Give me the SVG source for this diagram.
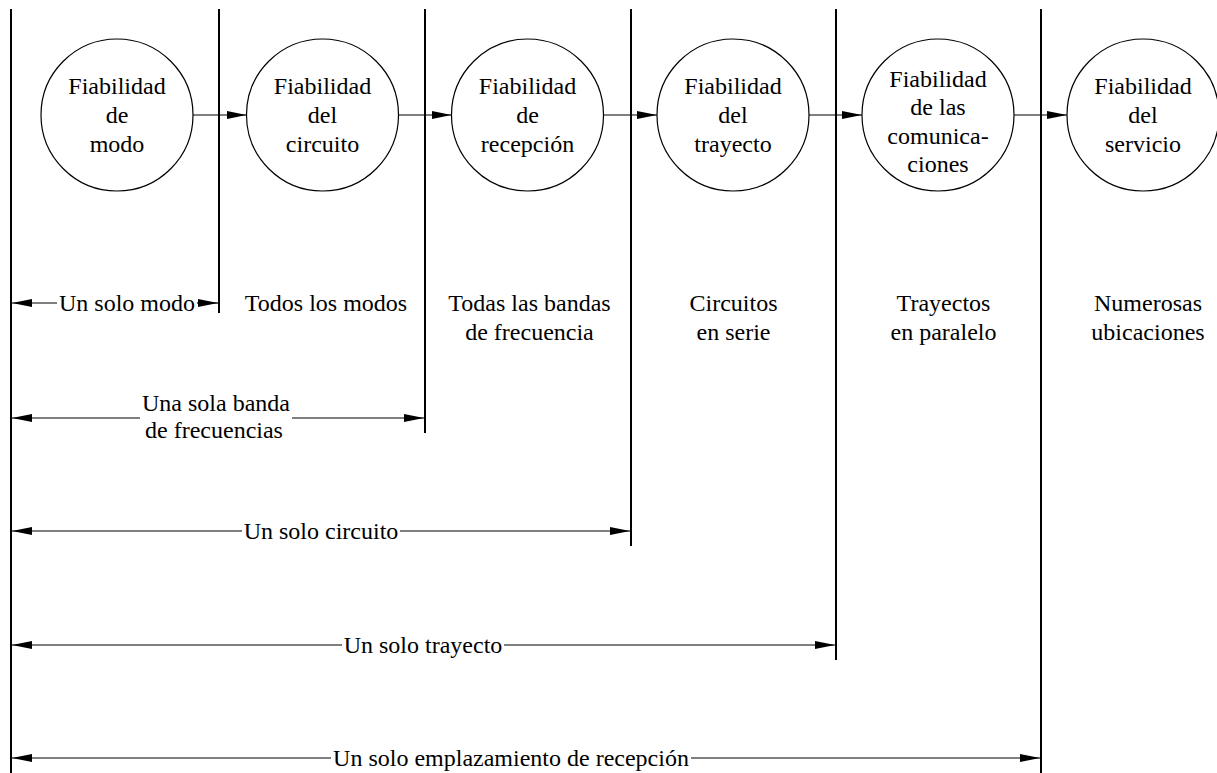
<svg xmlns="http://www.w3.org/2000/svg" width="1217" height="773" viewBox="0 0 1217 773">
<style>
text{font-family:"Liberation Serif","Times New Roman",serif;font-size:24px;fill:#000;text-anchor:middle}
.node circle{fill:#fff;stroke:#000;stroke-width:1.2}
.v{stroke:#000;stroke-width:2}
.c{stroke:#000;stroke-width:1.2;fill:none}
</style>
<defs>
<marker id="ah" markerUnits="userSpaceOnUse" markerWidth="22" markerHeight="10" refX="20" refY="4" orient="auto-start-reverse">
<path d="M0,0 L20,4 L0,8 Z" fill="#000"/>
</marker>
</defs>
<rect width="1217" height="773" fill="#fff"/>
<g id="dividers">
<line class="v" x1="11" y1="9" x2="11" y2="773"/>
<line class="v" x1="219" y1="9" x2="219" y2="313"/>
<line class="v" x1="425" y1="9" x2="425" y2="433"/>
<line class="v" x1="631" y1="9" x2="631" y2="546"/>
<line class="v" x1="836" y1="9" x2="836" y2="660"/>
<line class="v" x1="1041" y1="9" x2="1041" y2="773"/>
</g>
<g id="connectors">
<line class="c" x1="193" y1="115" x2="246.5" y2="115" marker-end="url(#ah)"/>
<line class="c" x1="398.5" y1="115" x2="451.5" y2="115" marker-end="url(#ah)"/>
<line class="c" x1="603.5" y1="115" x2="657" y2="115" marker-end="url(#ah)"/>
<line class="c" x1="809" y1="115" x2="862" y2="115" marker-end="url(#ah)"/>
<line class="c" x1="1014" y1="115" x2="1067" y2="115" marker-end="url(#ah)"/>
<line class="c" x1="57" y1="303" x2="12" y2="303" marker-end="url(#ah)"/>
<line class="c" x1="197" y1="303" x2="218" y2="303" marker-end="url(#ah)"/>
<line class="c" x1="140" y1="418" x2="12" y2="418" marker-end="url(#ah)"/>
<line class="c" x1="292" y1="418" x2="424" y2="418" marker-end="url(#ah)"/>
<line class="c" x1="242" y1="531" x2="12" y2="531" marker-end="url(#ah)"/>
<line class="c" x1="400" y1="531" x2="630" y2="531" marker-end="url(#ah)"/>
<line class="c" x1="342" y1="645" x2="12" y2="645" marker-end="url(#ah)"/>
<line class="c" x1="504" y1="645" x2="835" y2="645" marker-end="url(#ah)"/>
<line class="c" x1="331" y1="758" x2="12" y2="758" marker-end="url(#ah)"/>
<line class="c" x1="691" y1="758" x2="1040" y2="758" marker-end="url(#ah)"/>
</g>
<g id="n1" class="node"><circle cx="117" cy="115" r="76"/><text x="117" y="94">Fiabilidad</text><text x="117" y="123">de</text><text x="117" y="152">modo</text></g>
<g id="n2" class="node"><circle cx="322.5" cy="115" r="76"/><text x="322.5" y="94">Fiabilidad</text><text x="322.5" y="123">del</text><text x="322.5" y="152">circuito</text></g>
<g id="n3" class="node"><circle cx="527.5" cy="115" r="76"/><text x="527.5" y="94">Fiabilidad</text><text x="527.5" y="123">de</text><text x="527.5" y="152">recepción</text></g>
<g id="n4" class="node"><circle cx="733" cy="115" r="76"/><text x="733" y="94">Fiabilidad</text><text x="733" y="123">del</text><text x="733" y="152">trayecto</text></g>
<g id="n5" class="node"><circle cx="938" cy="115" r="76"/><text x="938" y="87">Fiabilidad</text><text x="938" y="115">de las</text><text x="938" y="144">comunica-</text><text x="938" y="172">ciones</text></g>
<g id="n6" class="node"><circle cx="1143" cy="115" r="76"/><text x="1143" y="94">Fiabilidad</text><text x="1143" y="123">del</text><text x="1143" y="152">servicio</text></g>
<g id="labels">
<text x="127" y="311">Un solo modo</text>
<text x="326" y="311">Todos los modos</text>
<text x="529.5" y="311">Todas las bandas</text>
<text x="529.5" y="340">de frecuencia</text>
<text x="733.5" y="311">Circuitos</text>
<text x="733.5" y="340">en serie</text>
<text x="943.5" y="311">Trayectos</text>
<text x="943.5" y="340">en paralelo</text>
<text x="1148" y="311">Numerosas</text>
<text x="1148" y="340">ubicaciones</text>
<text x="216" y="411">Una sola banda</text>
<text x="214" y="438">de frecuencias</text>
<text x="321" y="539">Un solo circuito</text>
<text x="423" y="653">Un solo trayecto</text>
<text x="511" y="766">Un solo emplazamiento de recepción</text>
</g>
</svg>
